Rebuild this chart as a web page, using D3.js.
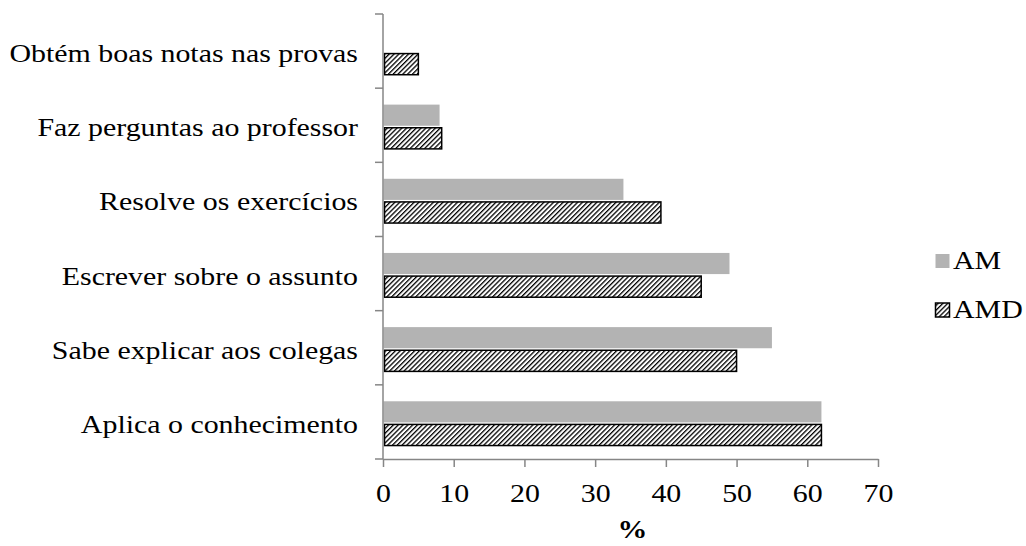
<!DOCTYPE html>
<html>
<head>
<meta charset="utf-8">
<script src="https://cdn.jsdelivr.net/npm/d3@7"></script>
<style>
  html, body { margin: 0; padding: 0; background: #ffffff; }
  svg text { font-family: "Liberation Serif", "Times New Roman", serif; fill: #000; }
</style>
</head>
<body>
<svg id="chart" width="1026" height="546"></svg>
<script>
// Categories, top to bottom
const categories = [
  "Obtém boas notas nas provas",
  "Faz perguntas ao professor",
  "Resolve os exercícios",
  "Escrever sobre o assunto",
  "Sabe explicar aos colegas",
  "Aplica o conhecimento"
];
// Percent values per series (null = no bar)
const valuesAM  = [null, 8, 34, 49, 55, 62];
const valuesAMD = [5, 8.3, 39.3, 45, 50, 62];
const seriesNames = ["AM", "AMD"];
const xTicks = [0, 10, 20, 30, 40, 50, 60, 70];

const svg = d3.select("#chart");
const plotLeft = 383, plotRight = 878, plotTop = 14, plotBottom = 459;
const axisColor = "#868686";
const grayFill = "#b3b3b3";
const fontSize = "26px";
const stretch = "scale(1.15,1)";   // text is set slightly wide

// Diagonal hatch used for the AMD series
const defs = svg.append("defs");
const pat = defs.append("pattern")
  .attr("id", "hatch")
  .attr("patternUnits", "userSpaceOnUse")
  .attr("width", 3.4).attr("height", 3.4)
  .attr("patternTransform", "rotate(45)");
pat.append("rect").attr("width", 3.4).attr("height", 3.4).attr("fill", "#fff");
pat.append("line").attr("x1", 0.6).attr("y1", 0).attr("x2", 0.6).attr("y2", 3.4)
  .attr("stroke", "#000").attr("stroke-width", 1.4);

const x = d3.scaleLinear().domain([0, 70]).range([plotLeft, plotRight]);
const y = d3.scaleBand().domain(categories).range([plotTop, plotBottom]);
const bw = y.bandwidth();
const barH = bw * 0.285;
const gap = 2;

const rows = categories.map((c, i) => ({ c, am: valuesAM[i], amd: valuesAMD[i] }));

// AM bars (solid gray), upper bar in each group
svg.append("g").selectAll("rect")
  .data(rows.filter(d => d.am != null))
  .join("rect")
  .attr("x", x(0) + 0.5)
  .attr("y", d => y(d.c) + bw / 2 + 1.5 - barH - gap / 2)
  .attr("width", d => x(d.am) - x(0) - 0.5)
  .attr("height", barH)
  .attr("fill", grayFill);

// AMD bars (hatched with black outline), lower bar in each group
svg.append("g").selectAll("rect")
  .data(rows.filter(d => d.amd != null))
  .join("rect")
  .attr("x", x(0) + 1.5)
  .attr("y", d => y(d.c) + bw / 2 + 1.5 + gap / 2)
  .attr("width", d => x(d.amd) - x(0) - 1.5)
  .attr("height", barH)
  .attr("fill", "url(#hatch)")
  .attr("stroke", "#000")
  .attr("stroke-width", 1.5);

// X axis
const xAxis = svg.append("g")
  .attr("transform", `translate(0,${plotBottom})`)
  .call(d3.axisBottom(x).tickValues(xTicks).tickSize(8).tickSizeOuter(0).tickFormat(d3.format("d")));
xAxis.select(".domain").attr("stroke", axisColor).attr("stroke-width", 1.5);
xAxis.selectAll(".tick line").attr("stroke", axisColor).attr("stroke-width", 1.5);
xAxis.selectAll(".tick text")
  .attr("x", 0).attr("y", 0).attr("dy", null)
  .attr("transform", `translate(0,43) ${stretch}`)
  .style("font-size", fontSize);

// Y axis: ticks at category boundaries
const yAxisG = svg.append("g").attr("transform", `translate(${plotLeft},0)`);
yAxisG.append("line")
  .attr("x1", 0).attr("x2", 0).attr("y1", plotTop).attr("y2", plotBottom)
  .attr("stroke", axisColor).attr("stroke-width", 1.5);
const boundaries = categories.map(c => y(c)).concat([plotBottom]);
yAxisG.selectAll("line.tk")
  .data(boundaries)
  .join("line")
  .attr("class", "tk")
  .attr("x1", -8).attr("x2", 0)
  .attr("y1", d => d).attr("y2", d => d)
  .attr("stroke", axisColor).attr("stroke-width", 1.5);

// Category labels
svg.append("g").selectAll("text")
  .data(categories)
  .join("text")
  .attr("transform", d => `translate(358,${y(d) + bw / 2 + 11}) ${stretch}`)
  .attr("text-anchor", "end")
  .style("font-size", fontSize)
  .text(d => d);

// Axis title
svg.append("text")
  .attr("transform", `translate(${(plotLeft + plotRight) / 2 + 2},538) ${stretch}`)
  .attr("text-anchor", "middle")
  .style("font-size", fontSize)
  .style("font-weight", "bold")
  .text("%");

// Legend
const legend = svg.append("g");
const legendRows = [
  { name: seriesNames[0], fill: grayFill, stroke: "none", y: 254 },
  { name: seriesNames[1], fill: "url(#hatch)", stroke: "#000", y: 303 }
];
legend.selectAll("rect")
  .data(legendRows)
  .join("rect")
  .attr("x", 935.5).attr("y", d => d.y)
  .attr("width", 14).attr("height", 14)
  .attr("fill", d => d.fill)
  .attr("stroke", d => d.stroke)
  .attr("stroke-width", 1.5);
legend.selectAll("text")
  .data(legendRows)
  .join("text")
  .attr("transform", d => `translate(953,${d.y + 15}) ${stretch}`)
  .style("font-size", fontSize)
  .text(d => d.name);
</script>
</body>
</html>
